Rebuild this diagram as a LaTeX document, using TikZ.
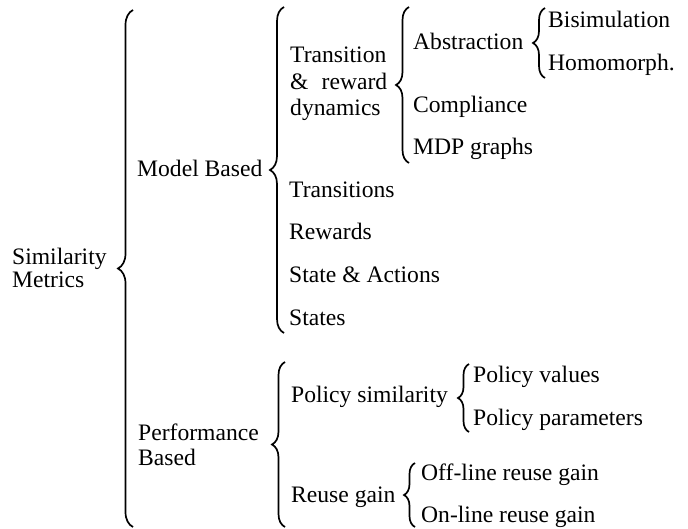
\documentclass[tikz,border=0pt]{standalone}
\usepackage{fontspec}
\setmainfont{Liberation Serif}
\usetikzlibrary{decorations.pathreplacing}

\begin{document}
\begin{tikzpicture}[x=1pt,y=-1pt,
    lbl/.style={anchor=base west,inner sep=0pt,font=\fontsize{23.6}{23.5}\selectfont},
    brc/.style={decorate,decoration={brace,amplitude=#1},line width=1.7pt},
    brc/.default=14pt]
            \useasboundingbox (0,0) rectangle (688,529);

            \node[lbl,align=left] (sim) at (12,288) {Similarity\\Metrics};
            \node[lbl] (model) at (137,177) {Model Based};
            \node[lbl,align=left,font=\fontsize{23.6}{25}\selectfont] (perf) at (138,465) {Performance\\Based};

            \node[lbl,text width=97pt,align=left,font=\fontsize{23.6}{26.5}\selectfont] (dyn) at (290,63) {Transition\\\&\hfill reward\\dynamics};
            \foreach \y/\t [count=\i] in {198/Transitions,240/Rewards,283/State \& Actions,325/States}
              {
                \node[lbl] (m\i) at (289,\y) {\t};
              }
            \node[lbl] (abs) at (413,50) {Abstraction};
            \node[lbl] (comp) at (413,113) {Compliance};
            \node[lbl] (mdp) at (413,155) {MDP graphs};
            \node[lbl] (bisim) at (548,28) {Bisimulation};
            \node[lbl] (homo) at (548,71) {Homomorph.};

            \node[lbl] (pol) at (291,402) {Policy similarity};
            \node[lbl] (reuse) at (291,502) {Reuse gain};
            \node[lbl] (polval) at (473,382) {Policy values};
            \node[lbl] (polpar) at (473,425) {Policy parameters};
            \node[lbl] (offl) at (421,480) {Off-line reuse gain};
            \node[lbl] (onl) at (421,522) {On-line reuse gain};

            \coordinate (simT) at (133,10);   \coordinate (simB) at (133,527);
            \coordinate (modelT) at (284,7);  \coordinate (modelB) at (284,333);
            \coordinate (dynT) at (409,7);    \coordinate (dynB) at (409,163);
            \coordinate (absT) at (545,8);    \coordinate (absB) at (545,78);
            \coordinate (perfT) at (285,362); \coordinate (perfB) at (285,527);
            \coordinate (polT) at (469,364);  \coordinate (polB) at (469,432);
            \coordinate (reuseT) at (415,463); \coordinate (reuseB) at (415,527);

            \draw[brc=15pt] (simB) -- (simT);
            \draw[brc] (modelB) -- (modelT);
            \draw[brc=13pt] (dynB) -- (dynT);
            \draw[brc=12pt] (absB) -- (absT);
            \draw[brc=13pt] (perfB) -- (perfT);
            \draw[brc=11pt] (polB) -- (polT);
            \draw[brc=11pt] (reuseB) -- (reuseT);
          \end{tikzpicture}
\end{document}
